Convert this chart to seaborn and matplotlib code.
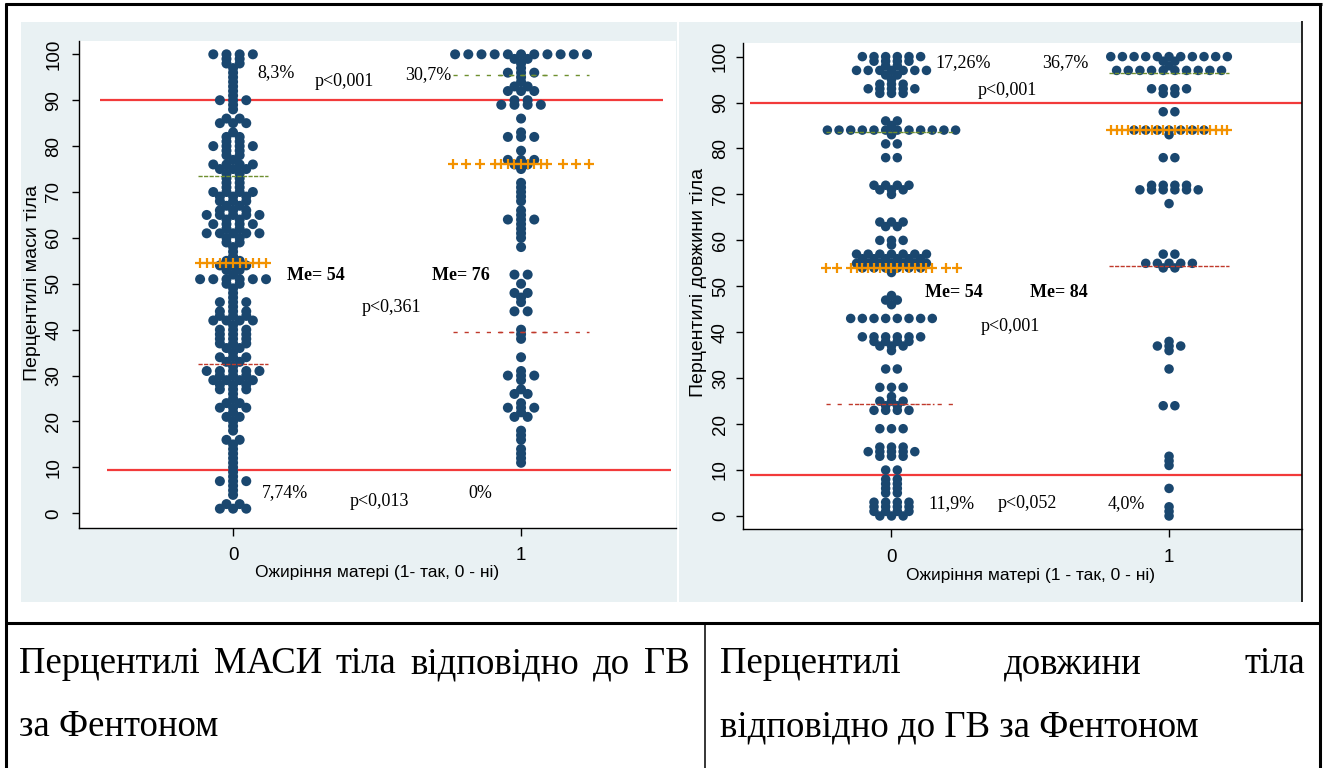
import numpy as np
import pandas as pd
import matplotlib
matplotlib.use("Agg")
import matplotlib.pyplot as plt
import seaborn as sns
from matplotlib.lines import Line2D
from matplotlib.patches import Rectangle

sns.set_theme(style="ticks")
plt.rcParams['font.family'] = ['Liberation Sans', 'DejaVu Sans']

# ---------------- data (percentile value -> number of infants) ----------------
groups = [0, 1]
group_labels = ["0", "1"]

mass0_values = [100, 99, 98, 97, 96, 95, 94, 93, 92, 91, 90, 89, 88, 86, 85, 83, 82, 81, 80, 79,
                78, 77, 76, 75, 74, 73, 72, 71, 70, 69, 68, 67, 66, 65, 64, 63, 62, 61, 60, 59,
                58, 57, 56, 55, 54, 53, 52, 51, 50, 49, 48, 47, 46, 45, 44, 43, 42, 41, 40, 39,
                38, 37, 36, 35, 34, 33, 32, 31, 30, 29, 28, 27, 26, 25, 24, 23, 22, 21, 20, 19,
                18, 16, 15, 14, 13, 12, 11, 10, 9, 8, 7, 6, 5, 4, 2, 1]
mass0_counts = [4, 2, 2, 1, 1, 1, 1, 1, 1, 1, 3, 1, 1, 2, 3, 1, 2, 2, 4, 2,
                2, 1, 4, 3, 2, 2, 2, 2, 4, 3, 3, 2, 3, 5, 2, 4, 2, 5, 2, 2,
                1, 1, 1, 2, 3, 2, 1, 6, 2, 1, 1, 1, 3, 1, 3, 3, 4, 1, 3, 3,
                3, 3, 2, 1, 3, 2, 1, 5, 3, 4, 3, 3, 1, 1, 2, 3, 1, 2, 1, 1,
                1, 2, 1, 1, 1, 1, 1, 1, 1, 1, 3, 1, 1, 1, 2, 3]

mass1_values = [100, 99, 98, 97, 96, 95, 94, 93, 92, 90, 89, 86, 83, 82, 79, 77, 76, 75, 72, 71,
                70, 69, 68, 66, 65, 64, 63, 62, 61, 60, 58, 52, 50, 48, 47, 46, 44, 40, 39, 38,
                34, 31, 30, 29, 27, 26, 24, 23, 22, 21, 18, 17, 16, 14, 13, 12, 11]
mass1_counts = [11, 2, 1, 1, 3, 1, 1, 2, 3, 2, 4, 1, 1, 3, 1, 3, 2, 1, 1, 1,
                1, 1, 1, 1, 1, 3, 1, 1, 1, 1, 1, 2, 1, 2, 1, 1, 2, 1, 1, 1,
                1, 1, 3, 1, 1, 2, 1, 3, 1, 2, 1, 1, 1, 1, 1, 1, 1]

len0_values = [100, 99, 98, 97, 96, 95, 94, 93, 92, 86, 85, 84, 83, 81, 78, 72, 71, 70, 64, 63,
               60, 59, 57, 56, 55, 54, 53, 48, 47, 46, 43, 39, 38, 37, 36, 32, 28, 26, 25, 24,
               23, 19, 15, 14, 13, 10, 8, 7, 6, 5, 3, 2, 1, 0]
len0_counts = [6, 4, 2, 7, 2, 1, 3, 5, 3, 2, 1, 12, 1, 2, 2, 4, 3, 1, 3, 2,
               3, 1, 7, 6, 7, 6, 1, 1, 2, 1, 8, 6, 4, 3, 1, 2, 3, 1, 3, 2,
               4, 3, 3, 5, 3, 2, 2, 2, 2, 2, 4, 4, 4, 3]

len1_values = [100, 99, 98, 97, 93, 92, 88, 84, 83, 78, 72, 71, 68, 57, 55, 54, 38, 37, 36, 32,
               24, 13, 12, 11, 6, 2, 1, 0]
len1_counts = [11, 2, 1, 10, 4, 2, 2, 7, 1, 2, 4, 6, 1, 2, 5, 2, 1, 3, 1, 1,
               2, 1, 1, 1, 1, 1, 1, 1]

# summary lines
mass_ref = [90, 9.4]
mass_median = [54.5, 76.0]
mass_q3 = [73.5, 95.6]
mass_q1 = [32.5, 39.4]
len_ref = [90, 8.9]
len_median = [54.0, 84.0]
len_q3 = [83.6, 96.4]
len_q1 = [24.3, 54.4]

mass_texts = [("8,3%", 0.083, 96.1, False), ("p<0,001", 0.285, 94.0, False),
              ("30,7%", 0.597, 95.5, False), ("Me= 54", 0.1875, 51.9, True),
              ("Me= 76", 0.691, 51.9, True), ("p<0,361", 0.448, 44.9, False),
              ("7,74%", 0.10, 4.4, False), ("p<0,013", 0.406, 2.5, False),
              ("0%", 0.816, 4.4, False)]
len_texts = [("17,26%", 0.158, 98.7, False), ("36,7%", 0.542, 98.7, False),
             ("p<0,001", 0.312, 92.6, False), ("Me= 54", 0.122, 48.6, True),
             ("Me= 84", 0.499, 48.6, True), ("p<0,001", 0.320, 41.2, False),
             ("11,9%", 0.133, 2.8, False), ("p<0,052", 0.384, 2.8, False),
             ("4,0%", 0.779, 2.8, False)]

# ---------------- styling ----------------
W, H = 1324, 768
NAVY = "#1a476f"
RED = "#f23a3a"
ORANGE = "#f39200"
GREEN_D = "#6f8f2f"
RED_D = "#c0392b"
BG = "#e9f1f3"
SERIF = ['Liberation Serif', 'DejaVu Serif']


def fx(px):
    return px / W


def fy(py):
    return 1 - py / H


def dot_frame(values, counts, group, spacing):
    xs, ys = [], []
    for v, n in zip(values, counts):
        offs = (np.arange(n) - (n - 1) / 2.0) * spacing
        xs.extend(group + offs)
        ys.extend([v] * n)
    return pd.DataFrame({"x": xs, "y": ys, "g": group})


def draw_panel(ax, series, spacing, dot_s, xlim, ylim, refs, ref_spans,
               med, q1, q3, sparse_n, texts, xlabel, ylabel, xl_coords, yl_coords, ypad):
    frames = [dot_frame(v, c, g, spacing) for g, (v, c) in zip(groups, series)]
    df = pd.concat(frames, ignore_index=True)
    sns.scatterplot(data=df, x="x", y="y", ax=ax, s=dot_s, color=NAVY,
                    edgecolor="none", linewidth=0, zorder=3, legend=False)
    for r, (a, b) in zip(refs, ref_spans):
        ax.hlines(r, a, b, color=RED, lw=1.6, zorder=2)
    for g, (v, c), m, lo, hi, ns in zip(groups, series, med, q1, q3, sparse_n):
        hw = (max(c) - 1) / 2.0 * spacing + spacing * 0.15
        inner = hw - ns * spacing
        # dashed quartile lines
        for yq, col in ((hi, GREEN_D), (lo, RED_D)):
            ax.hlines(yq, g - hw, g + hw, color=col, lw=1.0,
                      linestyles=(0, (3, 5)), zorder=4)
            ax.hlines(yq, g - inner, g + inner, color=col, lw=1.0,
                      linestyles=(4, (3, 5)), zorder=4)
        # median "+" line
        dense = np.arange(-inner, inner + 1e-9, spacing / 2.0)
        dense = dense - (dense[0] + dense[-1]) / 2.0
        sparse = inner + spacing * np.arange(1, ns + 1)
        pos = np.concatenate([-sparse[::-1], dense, sparse])
        ax.plot(g + pos, np.full_like(pos, m), linestyle="none", marker="+",
                ms=7, mew=1.6, color=ORANGE, zorder=5)
    for t, x, y, bold in texts:
        ax.text(x, y, t, ha="left", va="center", fontsize=13, family=SERIF,
                fontweight="bold" if bold else "normal", color="black", zorder=6)
    ax.set_xlim(*xlim)
    ax.set_ylim(*ylim)
    ax.set_xticks(groups)
    ax.set_xticklabels(group_labels)
    ax.set_yticks(np.arange(0, 101, 10))
    ax.set_yticklabels([str(v) for v in range(0, 101, 10)], rotation=90, va="center")
    ax.tick_params(axis="both", direction="out", length=5, width=1, color="black",
                   labelsize=13.5, labelcolor="black")
    ax.tick_params(axis="y", pad=ypad)
    ax.tick_params(axis="x", pad=8, length=6)
    for s in ("top", "right"):
        ax.spines[s].set_visible(False)
    for s in ("left", "bottom"):
        ax.spines[s].set_color("black")
        ax.spines[s].set_linewidth(1.0)
    ax.set_facecolor("white")
    ax.set_xlabel(xlabel, fontsize=12.5, color="black")
    ax.set_ylabel(ylabel, fontsize=14, color="black")
    ax.xaxis.set_label_coords(*xl_coords)
    ax.xaxis.label.set_va("center")
    ax.yaxis.set_label_coords(*yl_coords)
    ax.yaxis.label.set_va("center")


fig = plt.figure(figsize=(W / 100, H / 100), dpi=100, facecolor="white")

# chart image backgrounds
fig.patches.append(Rectangle((fx(21), fy(602)), fx(677) - fx(21), fy(22) - fy(602),
                             transform=fig.transFigure, facecolor=BG, edgecolor="none", zorder=-5))
fig.patches.append(Rectangle((fx(679), fy(602)), fx(1302) - fx(679), fy(22) - fy(602),
                             transform=fig.transFigure, facecolor=BG, edgecolor="none", zorder=-5))

axL = fig.add_axes([fx(79), fy(527.5), fx(676) - fx(79), fy(41) - fy(527.5)])
axR = fig.add_axes([fx(743), fy(529.3), fx(1302) - fx(743), fy(43.3) - fy(529.3)])
axL.set_zorder(2)
axR.set_zorder(2)

draw_panel(axL, [(mass0_values, mass0_counts), (mass1_values, mass1_counts)],
           spacing=0.0458, dot_s=52, xlim=(-0.535, 1.538), ylim=(-3.1, 102.9),
           refs=mass_ref, ref_spans=[(-0.462, 1.493), (-0.4375, 1.521)],
           med=mass_median, q1=mass_q1, q3=mass_q3, sparse_n=[0, 3], texts=mass_texts,
           xlabel="Ожиріння матері (1- так, 0 - ні)", ylabel="Перцентилі маси тіла",
           xl_coords=(0.499, -0.0926), yl_coords=(-0.078, 0.503), ypad=7)

draw_panel(axR, [(len0_values, len0_counts), (len1_values, len1_counts)],
           spacing=0.042, dot_s=47, xlim=(-0.535, 1.479), ylim=(-2.9, 102.9),
           refs=len_ref, ref_spans=[(-0.51, 1.479), (-0.51, 1.479)],
           med=len_median, q1=len_q1, q3=len_q3, sparse_n=[2, 0], texts=len_texts,
           xlabel="Ожиріння матері (1 - так, 0 - ні)", ylabel="Перцентилі довжини тіла",
           xl_coords=(0.514, -0.0955), yl_coords=(-0.079, 0.507), ypad=5)

# table borders
def fline(x0, y0, x1, y1, lw):
    fig.add_artist(Line2D([fx(x0), fx(x1)], [fy(y0), fy(y1)], transform=fig.transFigure,
                          color="black", lw=lw, solid_capstyle="butt", zorder=10))

fline(4.5, 4, 1321.5, 4, 2.2)
fline(6, 3, 6, 768, 2.2)
fline(1320, 3, 1320, 768, 2.2)
fline(6, 623, 1320, 623, 2.2)
fline(705, 623, 705, 768, 1.1)
fline(1302, 21, 1302, 602, 1.2)

# caption cells (justified first lines)
cap_fs = 26.5
renderer = fig.canvas.get_renderer()


def justify(words, x0, x1, y):
    items = [fig.text(0, fy(y), w, fontsize=cap_fs, family=SERIF, ha="left",
                      va="center", color="black") for w in words]
    widths = [t.get_window_extent(renderer).width for t in items]
    gap = (x1 - x0 - sum(widths)) / (len(words) - 1)
    x = x0
    for t, w in zip(items, widths):
        t.set_x(fx(x))
        x += w + gap


justify(["Перцентилі", "МАСИ", "тіла", "відповідно", "до", "ГВ"], 19, 690, 664)
fig.text(fx(19), fy(727), "за Фентоном", fontsize=cap_fs, family=SERIF,
         ha="left", va="center", color="black")
justify(["Перцентилі", "довжини", "тіла"], 720, 1305, 664)
fig.text(fx(720), fy(727), "відповідно до ГВ за Фентоном", fontsize=cap_fs, family=SERIF,
         ha="left", va="center", color="black")

fig.savefig("out.png", dpi=100, facecolor="white")
